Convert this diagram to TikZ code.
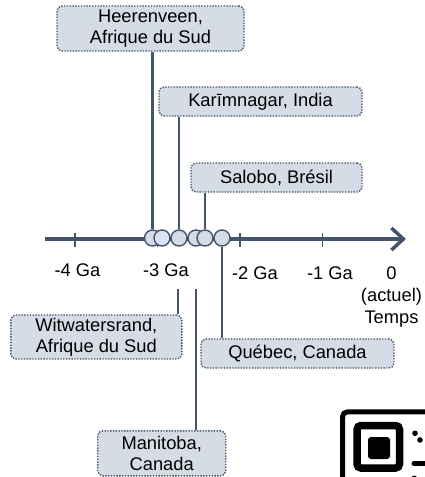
\documentclass[tikz,border=0pt]{standalone}
\usepackage{fontspec}
\setmainfont{Liberation Sans}
\usetikzlibrary{arrows.meta}
\definecolor{slate}{HTML}{44546A}
\definecolor{boxfill}{HTML}{D6DCE5}
\definecolor{paleblue}{HTML}{DAE3F3}
\tikzset{
  site/.style={draw=slate,fill=boxfill,line width=1.4pt,dash pattern=on 1.4pt off 1.4pt,
    rounded corners=5pt,align=center,inner sep=0pt,font=\fontsize{18.3}{21}\selectfont},
  dot/.style={circle,draw=slate,fill=boxfill,line width=1.4pt,minimum size=16pt,inner sep=0pt},
  lbl/.style={font=\fontsize{18.3}{22}\selectfont,align=center,inner sep=0pt},
  link/.style={slate,line width=2pt}
}
\begin{document}
\begin{tikzpicture}[x=1pt,y=-1pt]
\useasboundingbox (0,0) rectangle (425,477);
% time axis
\draw[slate,line width=3.5pt,-{Straight Barb[length=12pt,width=22pt,line width=3.5pt]}] (45,239) -- (406,239);
\foreach \x in {75,157.5,240,322.5} \draw[slate,line width=1.4pt] (\x,233) -- (\x,247);
\node[lbl,anchor=base] (g4) at (77.5,276) {-4 Ga};
\node[lbl,anchor=base] (g3) at (166,276) {-3 Ga};
\node[lbl,anchor=base] (g2) at (255,279) {-2 Ga};
\node[lbl,anchor=base] (g1) at (330,279) {-1 Ga};
\node[lbl,anchor=base] (g0) at (391.5,323) {0\\(actuel)\\Temps};
% sites
\node[site,minimum width=187pt,minimum height=45pt] (heer) at (150.5,28.5) {Heerenveen,\\Afrique du Sud};
\node[site,minimum width=203pt,minimum height=29pt] (karim) at (260.5,101.5) {Karīmnagar, India};
\node[site,minimum width=171pt,minimum height=29pt] (salobo) at (276.5,177.5) {Salobo, Brésil};
\node[site,minimum width=171pt,minimum height=44pt] (witw) at (96.3,337) {Witwatersrand,\\Afrique du Sud};
\node[site,minimum width=193pt,minimum height=29pt] (quebec) at (297.5,353.5) {Québec, Canada};
\node[site,minimum width=128pt,minimum height=45pt] (manit) at (161.7,453.3) {Manitoba,\\Canada};
% dates on the axis
\node[dot] (c1) at (152.5,238) {};
\node[dot,fill=paleblue] (c2) at (162,238) {};
\node[dot] (c3) at (179,238) {};
\node[dot] (c4) at (196,238) {};
\node[dot] (c5) at (205,238) {};
\node[dot] (c6) at (222,238) {};
\coordinate (w1) at (178,289);
\coordinate (m1) at (196,289);
\draw[link,line width=3pt] (c1.north) -- (c1.north |- heer.south);
\draw[link] (c3.north) -- (c3.north |- karim.south);
\draw[link] (c5.north) -- (c5.north |- salobo.south);
\draw[link] (c6.south) -- (c6.south |- quebec.north);
\draw[link] (w1) -- (w1 |- witw.north);
\draw[link] (m1) -- (m1 |- manit.north);
% qr code corner
\begin{scope}
\clip (0,0) rectangle (425,477);
\draw[line width=5pt,rounded corners=5pt] (342.5,411.8) rectangle (440,490);
\draw[line width=7.5pt,rounded corners=4pt] (357,425.5) rectangle (399.5,468);
\fill[rounded corners=3pt] (368,437) rectangle (390,459);
\fill (415,433.3) circle (2.8);
\fill (420,440) circle (2.8);
\draw[line width=5pt,line cap=round] (414,463.3) -- (430,463.3);
\fill (414.3,478.3) circle (2.8);
\end{scope}
\end{tikzpicture}
\end{document}
